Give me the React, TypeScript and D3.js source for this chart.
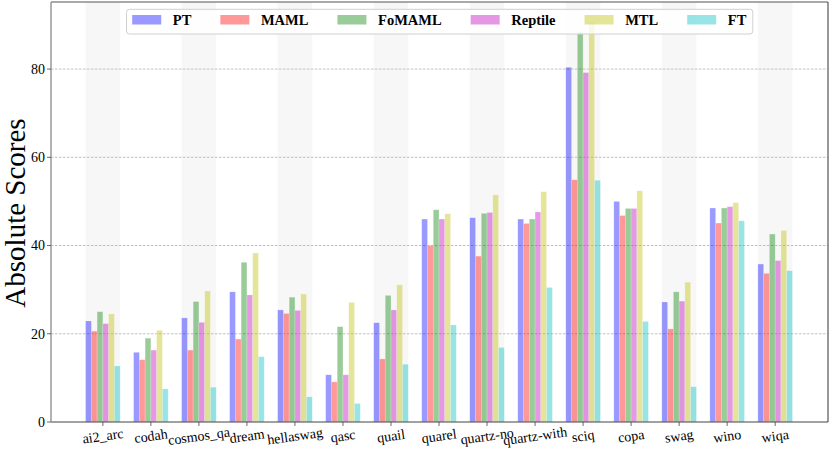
import React, { useEffect, useRef } from "react";
import * as d3 from "d3";

const categories = ["ai2_arc", "codah", "cosmos_qa", "dream", "hellaswag", "qasc", "quail", "quarel", "quartz-no", "quartz-with", "sciq", "copa", "swag", "wino", "wiqa"];
const seriesNames = ["PT", "MAML", "FoMAML", "Reptile", "MTL", "FT"];
const PT = [22.9, 15.8, 23.6, 29.5, 25.4, 10.7, 22.5, 46.0, 46.3, 46.0, 80.4, 50.0, 27.2, 48.5, 35.8];
const MAML = [20.6, 14.1, 16.3, 18.8, 24.6, 9.1, 14.3, 40.0, 37.6, 45.0, 54.9, 46.8, 21.1, 45.1, 33.7];
const FoMAML = [25.0, 19.0, 27.3, 36.2, 28.3, 21.6, 28.7, 48.1, 47.3, 46.0, 88.3, 48.4, 29.5, 48.5, 42.6];
const Reptile = [22.3, 16.3, 22.6, 28.8, 25.3, 10.7, 25.4, 46.0, 47.5, 47.6, 79.2, 48.4, 27.4, 48.8, 36.6];
const MTL = [24.5, 20.8, 29.7, 38.3, 29.0, 27.1, 31.1, 47.2, 51.5, 52.2, 90.7, 52.4, 31.7, 49.7, 43.4];
const FT = [12.7, 7.5, 7.9, 14.8, 5.7, 4.2, 13.1, 22.0, 16.9, 30.5, 54.8, 22.8, 8.0, 45.6, 34.3];
const seriesValues = [PT, MAML, FoMAML, Reptile, MTL, FT];
const seriesColors = ["#0000ff", "#ff0000", "#008000", "#bf00bf", "#bfbf00", "#00bfbf"];
const yTicks = [0, 20, 40, 60, 80];

const W = 830;
const H = 453;
const FONT = "'Liberation Serif', 'Times New Roman', Times, serif";

export default function App() {
  const ref = useRef<SVGSVGElement | null>(null);

  useEffect(() => {
    const svg = d3.select(ref.current);
    svg.selectAll("*").remove();

    const left = 51, right = 828, top = 2, bottom = 422;
    const x = d3.scaleLinear().domain([-1.08, 15.1]).range([left, right]);
    const y = d3.scaleLinear().domain([0, 95.2]).range([bottom, top]);
    const barW = 0.12;
    const pxW = x(barW) - x(0);

    const defs = svg.append("defs");
    defs.append("clipPath").attr("id", "plotclip")
      .append("rect").attr("x", left).attr("y", top).attr("width", right - left).attr("height", bottom - top);

    const plot = svg.append("g").attr("clip-path", "url(#plotclip)");

    // background bands
    plot.selectAll("rect.band")
      .data(categories.map((c, i) => i).filter((i) => i % 2 === 0))
      .enter().append("rect")
      .attr("x", (i) => x(i - 3 * barW))
      .attr("width", pxW * 6)
      .attr("y", top)
      .attr("height", bottom - top)
      .attr("fill", "#f7f7f7");

    // grid
    plot.selectAll("line.grid")
      .data(yTicks.filter((t) => t > 0))
      .enter().append("line")
      .attr("x1", left).attr("x2", right)
      .attr("y1", (t) => y(t)).attr("y2", (t) => y(t))
      .attr("stroke", "#b0b0b0").attr("stroke-width", 0.8)
      .attr("stroke-dasharray", "2.5,1.5");

    // bars
    seriesValues.forEach((vals, s) => {
      plot.selectAll(`rect.s${s}`)
        .data(vals)
        .enter().append("rect")
        .attr("x", (v, i) => x(i + (s - 3) * barW))
        .attr("width", pxW)
        .attr("y", (v) => y(v))
        .attr("height", (v) => bottom - y(v))
        .attr("fill", seriesColors[s])
        .attr("fill-opacity", 0.4)
        .attr("stroke", "#ffffff")
        .attr("stroke-opacity", 0.35)
        .attr("stroke-width", 0.6);
    });

    // frame
    svg.append("line").attr("x1", left).attr("x2", right).attr("y1", top).attr("y2", top)
      .attr("stroke", "#555").attr("stroke-width", 1.2);
    svg.append("line").attr("x1", right).attr("x2", right).attr("y1", top).attr("y2", bottom)
      .attr("stroke", "#555").attr("stroke-width", 1.2);
    svg.append("line").attr("x1", left).attr("x2", right).attr("y1", bottom).attr("y2", bottom)
      .attr("stroke", "#444").attr("stroke-width", 1.2);
    svg.append("line").attr("x1", left).attr("x2", left).attr("y1", top).attr("y2", bottom)
      .attr("stroke", "#999").attr("stroke-width", 1.5);

    // y ticks
    const yt = svg.append("g");
    yTicks.forEach((t) => {
      yt.append("line").attr("x1", left - 4).attr("x2", left).attr("y1", y(t)).attr("y2", y(t))
        .attr("stroke", "#444").attr("stroke-width", 0.8);
      yt.append("text").attr("x", left - 6).attr("y", y(t)).attr("dy", "0.34em")
        .attr("text-anchor", "end").attr("font-family", FONT).attr("font-size", 14)
        .attr("fill", "#000").text(String(t));
    });

    // x ticks
    const xt = svg.append("g");
    categories.forEach((c, i) => {
      xt.append("line").attr("x1", x(i)).attr("x2", x(i)).attr("y1", bottom).attr("y2", bottom + 4)
        .attr("stroke", "#444").attr("stroke-width", 0.8);
      xt.append("text")
        .attr("transform", `translate(${x(i)},${bottom + 14}) rotate(-8)`)
        .attr("text-anchor", "middle").attr("dy", "0.34em")
        .attr("font-family", FONT).attr("font-size", 14).attr("fill", "#000")
        .text(c);
    });

    // y label
    svg.append("text")
      .attr("transform", `translate(25,${(top + bottom) / 2 + 1}) rotate(-90)`)
      .attr("text-anchor", "middle")
      .attr("font-family", FONT).attr("font-size", 29).attr("fill", "#000")
      .text("Absolute Scores");

    // legend
    const lg = svg.append("g");
    const box = lg.append("rect")
      .attr("x", 126.5).attr("y", 9.3).attr("height", 24.7).attr("rx", 3)
      .attr("fill", "#ffffff").attr("fill-opacity", 0.8)
      .attr("stroke", "#d0d0d0").attr("stroke-width", 1);
    let cx = 132.2;
    seriesNames.forEach((name, s) => {
      lg.append("rect").attr("x", cx).attr("y", 15).attr("width", 29).attr("height", 9.5)
        .attr("fill", seriesColors[s]).attr("fill-opacity", 0.4);
      const t = lg.append("text").attr("x", cx + 40.6).attr("y", 25.3)
        .attr("font-family", FONT).attr("font-size", 14.5).attr("font-weight", "bold")
        .attr("fill", "#000").text(name);
      const tw = (t.node() as SVGTextElement).getComputedTextLength();
      cx = cx + 40.6 + tw + (s < seriesNames.length - 1 ? 29 : 0);
    });
    box.attr("width", cx + 6.5 - 126.5);
  }, []);

  return (
    <svg ref={ref} width={W} height={H} style={{ position: "absolute", left: 0, top: 0, background: "#fff" }} />
  );
}
